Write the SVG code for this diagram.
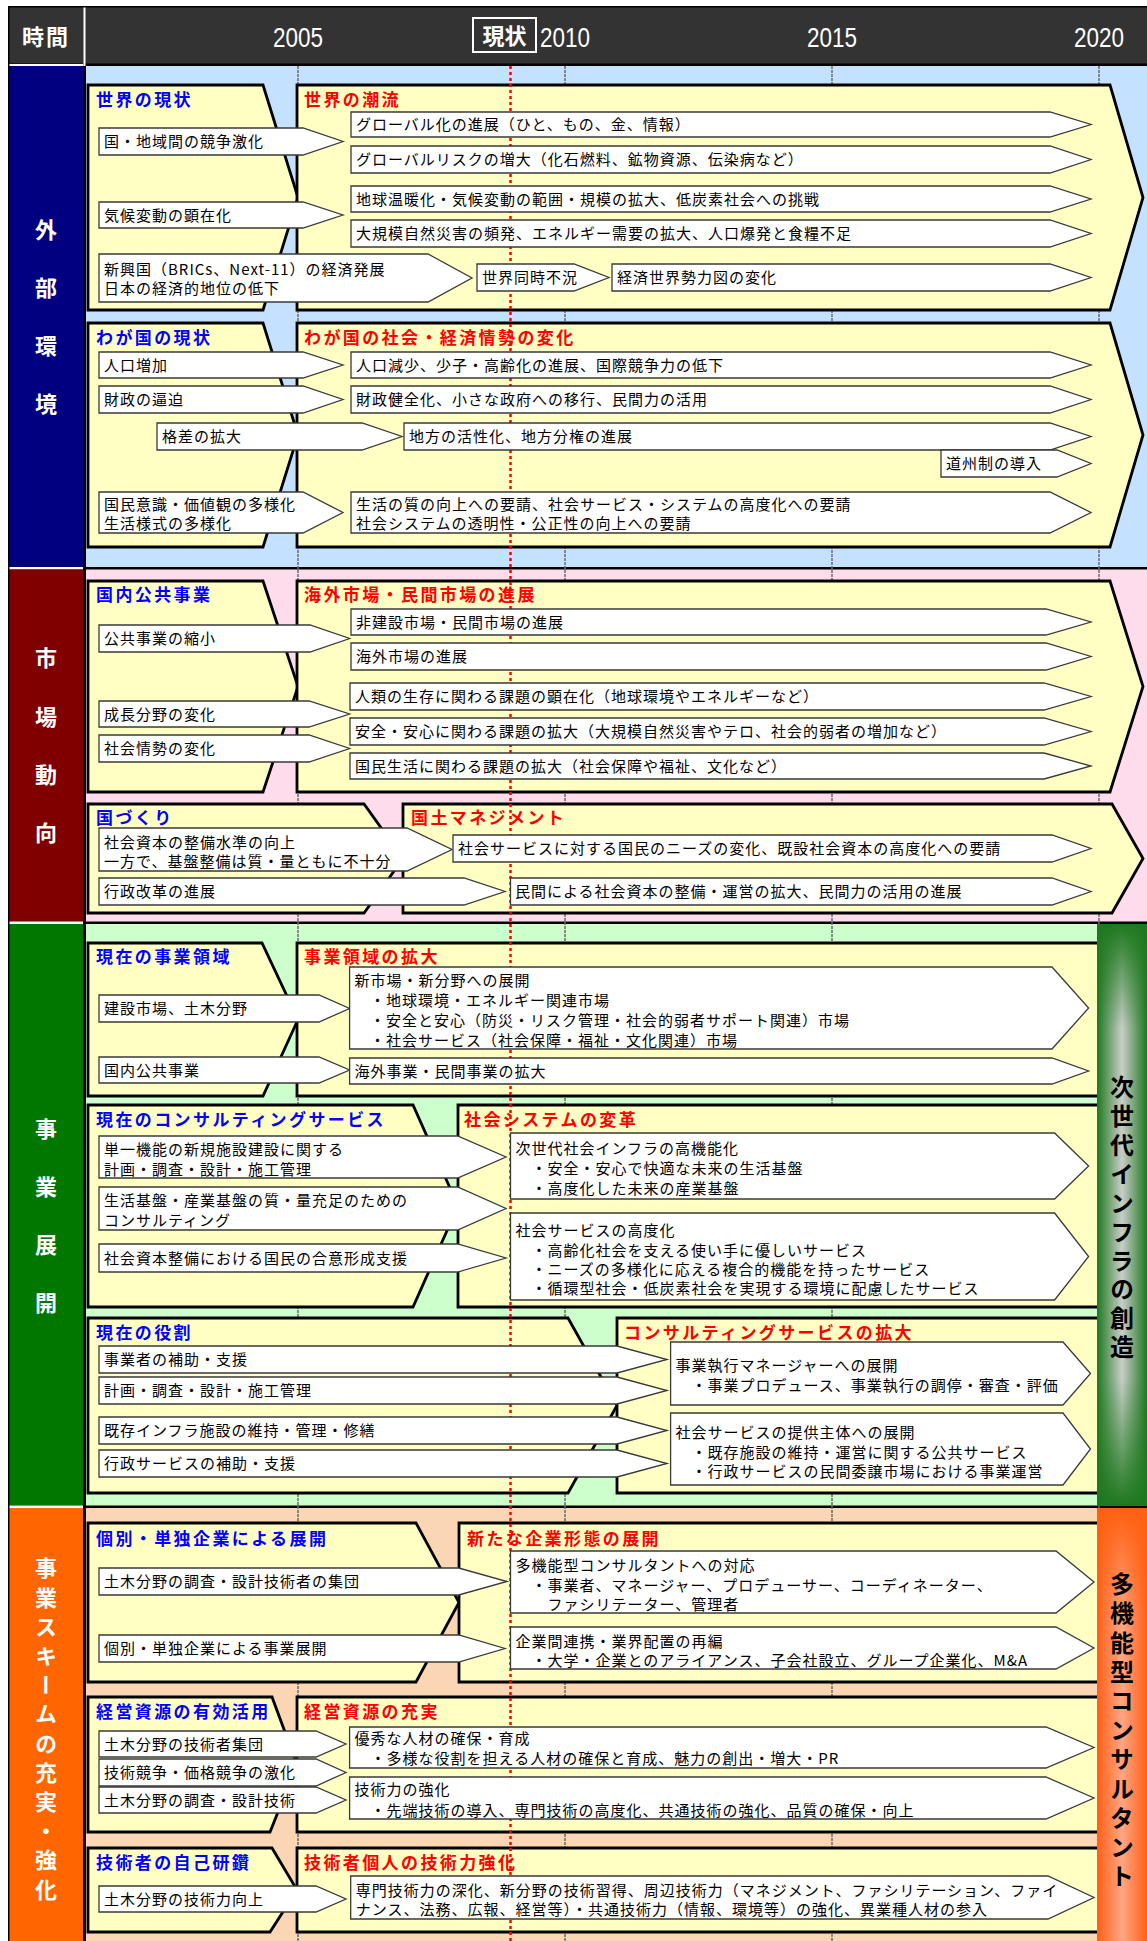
<svg xmlns="http://www.w3.org/2000/svg" width="1147" height="1941" viewBox="0 0 1147 1941">
<style>
text{font-family:"Noto Sans CJK JP","Noto Sans CJK SC",sans-serif}
.it{font-size:15px;letter-spacing:1px;fill:#000}
.tb{font-size:17px;font-weight:bold;letter-spacing:2.4px;fill:#0000ff}
.tr{font-size:17px;font-weight:bold;letter-spacing:2.4px;fill:#ff0000}
.box{fill:#ffffc4;stroke:#000;stroke-width:2.8;stroke-linejoin:miter}
.ar{fill:#fff;stroke:#3a3a3a;stroke-width:1.3;stroke-linejoin:miter}
.vl{font-size:22px;font-weight:bold;fill:#fff;writing-mode:vertical-rl}
.vb{font-size:24px;font-weight:bold;fill:#000;writing-mode:vertical-rl}
.yr{font-family:"Liberation Sans",sans-serif;font-size:28px;fill:#fff;text-anchor:middle}
.yl{stroke:#6a6a6a;stroke-width:1.5;stroke-dasharray:3 1}
</style>
<defs>
<linearGradient id="gH" x1="0" y1="0" x2="1" y2="0"><stop offset="0" stop-color="#1e781e"/><stop offset="0.5" stop-color="#c9cec9"/><stop offset="1" stop-color="#1e781e"/></linearGradient>
<linearGradient id="gV" x1="0" y1="0" x2="0" y2="1"><stop offset="0" stop-color="#1e781e" stop-opacity="1"/><stop offset="0.18" stop-color="#1e781e" stop-opacity="0"/><stop offset="0.78" stop-color="#1e781e" stop-opacity="0"/><stop offset="1" stop-color="#1e781e" stop-opacity="1"/></linearGradient>
<linearGradient id="oH" x1="0" y1="0" x2="1" y2="0"><stop offset="0" stop-color="#ff5f15"/><stop offset="0.5" stop-color="#ffa684"/><stop offset="1" stop-color="#ff5f15"/></linearGradient>
<linearGradient id="oV" x1="0" y1="0" x2="0" y2="1"><stop offset="0" stop-color="#ff6010" stop-opacity="1"/><stop offset="0.25" stop-color="#ff6010" stop-opacity="0"/></linearGradient>
</defs>
<rect x="0" y="0" width="1147" height="1941" fill="#fff"/>
<rect x="8" y="6" width="1139" height="1935" fill="#000"/>
<g id="header">
<rect x="9.5" y="7.5" width="1137.5" height="56" fill="#333"/>
<rect x="83.5" y="7.5" width="2" height="58.5" fill="#fff"/>
<rect x="9.5" y="64" width="74" height="2" fill="#fff"/>
<text x="46" y="45" style="font-size:22px;font-weight:bold;fill:#fff;text-anchor:middle;letter-spacing:2px">時間</text>
<text x="298" y="47" class="yr" textLength="50" lengthAdjust="spacingAndGlyphs">2005</text>
<text x="565" y="47" class="yr" textLength="50" lengthAdjust="spacingAndGlyphs">2010</text>
<text x="832" y="47" class="yr" textLength="50" lengthAdjust="spacingAndGlyphs">2015</text>
<text x="1099" y="47" class="yr" textLength="50" lengthAdjust="spacingAndGlyphs">2020</text>
<rect x="473" y="18" width="63" height="34" fill="#333" stroke="#fff" stroke-width="2"/>
<text x="504.5" y="44" style="font-size:22px;font-weight:bold;fill:#fff;text-anchor:middle">現状</text>
</g>
<g id="bands">
<rect x="9.5" y="66" width="73.5" height="501" fill="#000080"/>
<rect x="9.5" y="567" width="73.5" height="2.5" fill="#fff"/>
<rect x="9.5" y="569.5" width="73.5" height="352" fill="#800000"/>
<rect x="9.5" y="921.5" width="73.5" height="2.5" fill="#fff"/>
<rect x="9.5" y="924" width="73.5" height="581.5" fill="#007800"/>
<rect x="9.5" y="1505.5" width="73.5" height="2.5" fill="#fff"/>
<rect x="9.5" y="1508" width="73.5" height="433" fill="#ff6600"/>
<rect x="86" y="66" width="1061" height="501" fill="#c4e1ff"/>
<rect x="86" y="569.5" width="1061" height="352" fill="#ffdcec"/>
<rect x="86" y="924" width="1061" height="581.5" fill="#ccffcc"/>
<rect x="86" y="1508" width="1061" height="433" fill="#fbd6b4"/>
</g>
<g id="grid">
<line class="yl" x1="298" y1="66" x2="298" y2="1941"/>
<line class="yl" x1="565" y1="66" x2="565" y2="1941"/>
<line class="yl" x1="832" y1="66" x2="832" y2="1941"/>
<line class="yl" x1="1099" y1="66" x2="1099" y2="1941"/>
</g>
<g id="boxes">
<polygon id="boxA" class="box" points="88,85 263,85 298,197.5 263,310 88,310"/>
<polygon id="boxB" class="box" points="297,85 1110,85 1143,197.5 1110,310 297,310"/>
<polygon id="boxC" class="box" points="88,323 263,323 298,435 263,547 88,547"/>
<polygon id="boxD" class="box" points="297,323 1110,323 1143,435 1110,547 297,547"/>
<polygon id="boxE" class="box" points="88,581 263,581 298,686.5 263,792 88,792"/>
<polygon id="boxF" class="box" points="297,581 1110,581 1143,686.5 1110,792 297,792"/>
<polygon id="boxG" class="box" points="88,804 364,804 403,858.5 364,913 88,913"/>
<polygon id="boxH" class="box" points="403,804 1112,804 1143,858.5 1112,913 403,913"/>
<polygon id="boxI" class="box" points="88,943 262,943 298,1019.5 263,1096 88,1096"/>
<polygon id="boxJ" class="box" points="297,943 1110,943 1110,1096 297,1096"/>
<polygon id="boxK" class="box" points="88,1105 413,1105 458,1206 413,1307 88,1307"/>
<polygon id="boxL" class="box" points="458,1105 1110,1105 1110,1307 458,1307"/>
<polygon id="boxM" class="box" points="88,1318 568,1318 617,1405.5 568,1493 88,1493"/>
<polygon id="boxN" class="box" points="617,1318 1110,1318 1110,1493 617,1493"/>
<polygon id="boxO" class="box" points="88,1523 416,1523 459,1602.5 416,1682 88,1682"/>
<polygon id="boxP" class="box" points="459,1523 1110,1523 1110,1682 459,1682"/>
<polygon id="boxQ" class="box" points="88,1697 272,1697 297,1764.5 270,1832 88,1832"/>
<polygon id="boxR" class="box" points="297,1697 1110,1697 1110,1832 297,1832"/>
<polygon id="boxS" class="box" points="88,1848 272,1848 297,1890 270,1932 88,1932"/>
<polygon id="boxT" class="box" points="297,1848 1110,1848 1110,1932 297,1932"/>
</g>
<g id="now-line"><line x1="510.5" y1="66" x2="510.5" y2="1941" stroke="#ff0000" stroke-width="2.5" stroke-dasharray="3 3"/></g>
<g id="titles">
<text class="tb" x="96" y="106">世界の現状</text><text class="tr" x="304" y="106">世界の潮流</text>
<text class="tb" x="96" y="344">わが国の現状</text><text class="tr" x="304" y="344">わが国の社会・経済情勢の変化</text>
<text class="tb" x="96" y="601">国内公共事業</text><text class="tr" x="304" y="601">海外市場・民間市場の進展</text>
<text class="tb" x="96" y="824">国づくり</text><text class="tr" x="411" y="824">国土マネジメント</text>
<text class="tb" x="96" y="963">現在の事業領域</text><text class="tr" x="304" y="963">事業領域の拡大</text>
<text class="tb" x="96" y="1126">現在のコンサルティングサービス</text><text class="tr" x="464" y="1126">社会システムの変革</text>
<text class="tb" x="96" y="1339">現在の役割</text><text class="tr" x="624" y="1339">コンサルティングサービスの拡大</text>
<text class="tb" x="96" y="1545">個別・単独企業による展開</text><text class="tr" x="467" y="1545">新たな企業形態の展開</text>
<text class="tb" x="96" y="1718">経営資源の有効活用</text><text class="tr" x="304" y="1718">経営資源の充実</text>
<text class="tb" x="96" y="1869">技術者の自己研鑽</text><text class="tr" x="304" y="1869">技術者個人の技術力強化</text>
</g>
<g id="items">
<g id="a1"><polygon class="ar" points="99,128 303,128 343,141.5 303,155 99,155"/><text class="it" x="104" y="147">国・地域間の競争激化</text></g>
<g id="a2"><polygon class="ar" points="99,202 303,202 343,215 303,228 99,228"/><text class="it" x="104" y="220.5">気候変動の顕在化</text></g>
<g id="a3"><polygon class="ar" points="99,254 428,254 472,278 428,302 99,302"/><text class="it"><tspan x="104" y="274.5">新興国（BRICs、Next-11）の経済発展</tspan><tspan x="104" y="293.5">日本の経済的地位の低下</tspan></text></g>
<g id="a4"><polygon class="ar" points="351,112 1050,112 1091,124.5 1050,137 351,137"/><text class="it" x="356" y="130">グローバル化の進展（ひと、もの、金、情報）</text></g>
<g id="a5"><polygon class="ar" points="351,146 1050,146 1091,159.5 1050,173 351,173"/><text class="it" x="356" y="165">グローバルリスクの増大（化石燃料、鉱物資源、伝染病など）</text></g>
<g id="a6"><polygon class="ar" points="351,186 1050,186 1091,199 1050,212 351,212"/><text class="it" x="356" y="204.5">地球温暖化・気候変動の範囲・規模の拡大、低炭素社会への挑戦</text></g>
<g id="a7"><polygon class="ar" points="351,220 1050,220 1091,233.5 1050,247 351,247"/><text class="it" x="356" y="239">大規模自然災害の頻発、エネルギー需要の拡大、人口爆発と食糧不足</text></g>
<g id="a8"><polygon class="ar" points="477,264 574,264 609,277.5 574,291 477,291"/><text class="it" x="482" y="283">世界同時不況</text></g>
<g id="a9"><polygon class="ar" points="612,264 1050,264 1091,277.5 1050,291 612,291"/><text class="it" x="617" y="283">経済世界勢力図の変化</text></g>

<g id="b1"><polygon class="ar" points="99,352 303,352 343,365 303,378 99,378"/><text class="it" x="104" y="370.5">人口増加</text></g>
<g id="b2"><polygon class="ar" points="99,386 303,386 343,399.5 303,413 99,413"/><text class="it" x="104" y="405">財政の逼迫</text></g>
<g id="b3"><polygon class="ar" points="157,423 362,423 402,436.5 362,450 157,450"/><text class="it" x="162" y="442">格差の拡大</text></g>
<g id="b4"><polygon class="ar" points="99,492 303,492 343,512.5 303,533 99,533"/><text class="it"><tspan x="104" y="509.5">国民意識・価値観の多様化</tspan><tspan x="104" y="528.5">生活様式の多様化</tspan></text></g>
<g id="b5"><polygon class="ar" points="351,352 1050,352 1091,365 1050,378 351,378"/><text class="it" x="356" y="370.5">人口減少、少子・高齢化の進展、国際競争力の低下</text></g>
<g id="b6"><polygon class="ar" points="351,386 1050,386 1091,399.5 1050,413 351,413"/><text class="it" x="356" y="405">財政健全化、小さな政府への移行、民間力の活用</text></g>
<g id="b7"><polygon class="ar" points="404,423 1050,423 1091,436.5 1050,450 404,450"/><text class="it" x="409" y="442">地方の活性化、地方分権の進展</text></g>
<g id="b8"><polygon class="ar" points="941,450 1057,450 1091,463.5 1057,477 941,477"/><text class="it" x="946" y="469">道州制の導入</text></g>
<g id="b9"><polygon class="ar" points="351,492 1050,492 1091,512.5 1050,533 351,533"/><text class="it"><tspan x="356" y="509.5">生活の質の向上への要請、社会サービス・システムの高度化への要請</tspan><tspan x="356" y="528.5">社会システムの透明性・公正性の向上への要請</tspan></text></g>

<g id="c1"><polygon class="ar" points="99,625 310,625 349.6,638.5 310,652 99,652"/><text class="it" x="104" y="644">公共事業の縮小</text></g>
<g id="c2"><polygon class="ar" points="99,701 309,701 349.6,714 309,727 99,727"/><text class="it" x="104" y="719.5">成長分野の変化</text></g>
<g id="c3"><polygon class="ar" points="99,735 309,735 349.6,748.5 309,762 99,762"/><text class="it" x="104" y="754">社会情勢の変化</text></g>
<g id="c4"><polygon class="ar" points="351,609 1046,609 1091,622 1046,635 351,635"/><text class="it" x="356" y="627.5">非建設市場・民間市場の進展</text></g>
<g id="c5"><polygon class="ar" points="351,643 1046,643 1091,656.5 1046,670 351,670"/><text class="it" x="356" y="662">海外市場の進展</text></g>
<g id="c6"><polygon class="ar" points="350,683 1044,683 1091,696.5 1044,710 350,710"/><text class="it" x="355" y="702">人類の生存に関わる課題の顕在化（地球環境やエネルギーなど）</text></g>
<g id="c7"><polygon class="ar" points="350,718 1044,718 1091,731.5 1044,745 350,745"/><text class="it" x="355" y="737">安全・安心に関わる課題の拡大（大規模自然災害やテロ、社会的弱者の増加など）</text></g>
<g id="c8"><polygon class="ar" points="350,753 1044,753 1091,766 1044,779 350,779"/><text class="it" x="355" y="771.5">国民生活に関わる課題の拡大（社会保障や福祉、文化など）</text></g>

<g id="d1"><polygon class="ar" points="99,828 407,828 452,849.5 407,871 99,871"/><text class="it"><tspan x="104" y="847.5">社会資本の整備水準の向上</tspan><tspan x="104" y="866.5">一方で、基盤整備は質・量ともに不十分</tspan></text></g>
<g id="d2"><polygon class="ar" points="99,878 464,878 505,891.5 464,905 99,905"/><text class="it" x="104" y="897">行政改革の進展</text></g>
<g id="d3"><polygon class="ar" points="453,835 1052,835 1091,848.5 1052,862 453,862"/><text class="it" x="458" y="854">社会サービスに対する国民のニーズの変化、既設社会資本の高度化への要請</text></g>
<g id="d4"><polygon class="ar" points="510.5,878 1052,878 1091,891.5 1052,905 510.5,905"/><text class="it" x="515" y="897">民間による社会資本の整備・運営の拡大、民間力の活用の進展</text></g>

<g id="e1"><polygon class="ar" points="99,995 319,995 349.6,1008.5 319,1022 99,1022"/><text class="it" x="104" y="1014">建設市場、土木分野</text></g>
<g id="e2"><polygon class="ar" points="99,1057 319,1057 349.6,1070 319,1083 99,1083"/><text class="it" x="104" y="1075.5">国内公共事業</text></g>
<g id="e3"><polygon class="ar" points="349.6,967 1052,967 1088.6,1008 1052,1049 349.6,1049"/><text class="it"><tspan x="354.6" y="985.5">新市場・新分野への展開</tspan><tspan x="370" y="1005.5">・地球環境・エネルギー関連市場</tspan><tspan x="370" y="1025.5">・安全と安心（防災・リスク管理・社会的弱者サポート関連）市場</tspan><tspan x="370" y="1045.5">・社会サービス（社会保障・福祉・文化関連）市場</tspan></text></g>
<g id="e4"><polygon class="ar" points="349.6,1058 1052,1058 1088.6,1071 1052,1084 349.6,1084"/><text class="it" x="354.6" y="1076.5">海外事業・民間事業の拡大</text></g>

<g id="f1"><polygon class="ar" points="99,1136 457.6,1136 506,1157 457.6,1178 99,1178"/><text class="it"><tspan x="104" y="1154.5">単一機能の新規施設建設に関する</tspan><tspan x="104" y="1174.5">計画・調査・設計・施工管理</tspan></text></g>
<g id="f2"><polygon class="ar" points="99,1187 457.6,1187 506,1208.5 457.6,1230 99,1230"/><text class="it"><tspan x="104" y="1205.5">生活基盤・産業基盤の質・量充足のための</tspan><tspan x="104" y="1225.5">コンサルティング</tspan></text></g>
<g id="f3"><polygon class="ar" points="99,1244 457.6,1244 506,1258 457.6,1272 99,1272"/><text class="it" x="104" y="1263.5">社会資本整備における国民の合意形成支援</text></g>
<g id="f4"><polygon class="ar" points="510.5,1133 1054.6,1133 1088.6,1166 1054.6,1199 510.5,1199"/><text class="it"><tspan x="515.5" y="1153.5">次世代社会インフラの高機能化</tspan><tspan x="531.5" y="1173.5">・安全・安心で快適な未来の生活基盤</tspan><tspan x="531.5" y="1193.5">・高度化した未来の産業基盤</tspan></text></g>
<g id="f5"><polygon class="ar" points="510.5,1213 1054.6,1213 1088.6,1256.5 1054.6,1300 510.5,1300"/><text class="it"><tspan x="515.5" y="1235.5">社会サービスの高度化</tspan><tspan x="531.5" y="1255.5">・高齢化社会を支える使い手に優しいサービス</tspan><tspan x="531.5" y="1274.5">・ニーズの多様化に応える複合的機能を持ったサービス</tspan><tspan x="531.5" y="1293.5">・循環型社会・低炭素社会を実現する環境に配慮したサービス</tspan></text></g>

<g id="g1"><polygon class="ar" points="99,1346 617,1346 667,1359.5 617,1373 99,1373"/><text class="it" x="104" y="1365">事業者の補助・支援</text></g>
<g id="g2"><polygon class="ar" points="99,1377 617,1377 667,1390.5 617,1404 99,1404"/><text class="it" x="104" y="1396">計画・調査・設計・施工管理</text></g>
<g id="g3"><polygon class="ar" points="99,1417 617,1417 667,1430.5 617,1444 99,1444"/><text class="it" x="104" y="1436">既存インフラ施設の維持・管理・修繕</text></g>
<g id="g4"><polygon class="ar" points="99,1450 617,1450 667,1463.5 617,1477 99,1477"/><text class="it" x="104" y="1469">行政サービスの補助・支援</text></g>
<g id="g5"><polygon class="ar" points="670.6,1342 1063,1342 1090.5,1373.5 1063,1405 670.6,1405"/><text class="it"><tspan x="675.6" y="1370.5">事業執行マネージャーへの展開</tspan><tspan x="691.6" y="1390.5">・事業プロデュース、事業執行の調停・審査・評価</tspan></text></g>
<g id="g6"><polygon class="ar" points="670.6,1413 1063,1413 1090.5,1449 1063,1485 670.6,1485"/><text class="it"><tspan x="675.6" y="1437.5">社会サービスの提供主体への展開</tspan><tspan x="691.6" y="1457.5">・既存施設の維持・運営に関する公共サービス</tspan><tspan x="691.6" y="1476.5">・行政サービスの民間委譲市場における事業運営</tspan></text></g>

<g id="h1"><polygon class="ar" points="99,1568 458.7,1568 507,1581.5 458.7,1595 99,1595"/><text class="it" x="104" y="1587">土木分野の調査・設計技術者の集団</text></g>
<g id="h2"><polygon class="ar" points="99,1635 458.7,1635 505,1648.5 458.7,1662 99,1662"/><text class="it" x="104" y="1654">個別・単独企業による事業展開</text></g>
<g id="h3"><polygon class="ar" points="510.5,1551 1056,1551 1094,1582 1056,1613 510.5,1613"/><text class="it"><tspan x="515.5" y="1570.5">多機能型コンサルタントへの対応</tspan><tspan x="531.5" y="1590.5">・事業者、マネージャー、プロデューサー、コーディネーター、</tspan><tspan x="547.5" y="1609.5">ファシリテーター、管理者</tspan></text></g>
<g id="h4"><polygon class="ar" points="510.5,1627 1056,1627 1094,1648 1056,1669 510.5,1669"/><text class="it"><tspan x="515.5" y="1646.5">企業間連携・業界配置の再編</tspan><tspan x="531.5" y="1665.5">・大学・企業とのアライアンス、子会社設立、グループ企業化、M&amp;A</tspan></text></g>

<g id="i1"><polygon class="ar" points="99,1731 316,1731 346,1744 316,1757 99,1757"/><text class="it" x="104" y="1749.5">土木分野の技術者集団</text></g>
<g id="i2"><polygon class="ar" points="99,1759 316,1759 346,1772.5 316,1786 99,1786"/><text class="it" x="104" y="1778">技術競争・価格競争の激化</text></g>
<g id="i3"><polygon class="ar" points="99,1787 316,1787 346,1800 316,1813 99,1813"/><text class="it" x="104" y="1805.5">土木分野の調査・設計技術</text></g>
<g id="i4"><polygon class="ar" points="349.6,1727 1046,1727 1094,1747.5 1046,1768 349.6,1768"/><text class="it"><tspan x="354.6" y="1743.5">優秀な人材の確保・育成</tspan><tspan x="370.6" y="1763.5">・多様な役割を担える人材の確保と育成、魅力の創出・増大・PR</tspan></text></g>
<g id="i5"><polygon class="ar" points="349.6,1777 1046,1777 1094,1798 1046,1819 349.6,1819"/><text class="it"><tspan x="354.6" y="1794.5">技術力の強化</tspan><tspan x="370.6" y="1815.5">・先端技術の導入、専門技術の高度化、共通技術の強化、品質の確保・向上</tspan></text></g>

<g id="j1"><polygon class="ar" points="99,1886 316,1886 346,1899 316,1912 99,1912"/><text class="it" x="104" y="1904.5">土木分野の技術力向上</text></g>
<g id="j2"><polygon class="ar" points="350.7,1876 1048,1876 1094,1897.5 1048,1919 350.7,1919"/><text class="it"><tspan x="355.7" y="1895.5">専門技術力の深化、新分野の技術習得、周辺技術力（マネジメント、ファシリテーション、ファイ</tspan><tspan x="355.7" y="1914.5">ナンス、法務、広報、経営等）・共通技術力（情報、環境等）の強化、異業種人材の参入</tspan></text></g>
</g>
<g id="bar-green">
<rect x="1097" y="924" width="50" height="582" fill="url(#gH)"/>
<rect x="1097" y="924" width="50" height="582" fill="url(#gV)"/>
<text class="vb" x="1122" y="1075" style="letter-spacing:4.9px">次世代インフラの創造</text>
</g>
<g id="bar-orange">
<rect x="1097" y="1508" width="50" height="433" fill="url(#oH)"/>
<rect x="1097" y="1508" width="50" height="433" fill="url(#oV)"/>
<text class="vb" x="1122" y="1572" style="letter-spacing:5.2px">多機能型コンサルタント</text>
</g>
<g id="label-gaibu"><text class="vl" x="46" y="219" style="letter-spacing:36px">外部環境</text></g>
<g id="label-shijo"><text class="vl" x="46" y="647" style="letter-spacing:36.3px">市場動向</text></g>
<g id="label-jigyo"><text class="vl" x="46" y="1118" style="letter-spacing:36px">事業展開</text></g>
<g id="label-scheme"><text class="vl" x="46" y="1557" style="letter-spacing:7.2px">事業スキームの充実・強化</text></g>
</svg>
